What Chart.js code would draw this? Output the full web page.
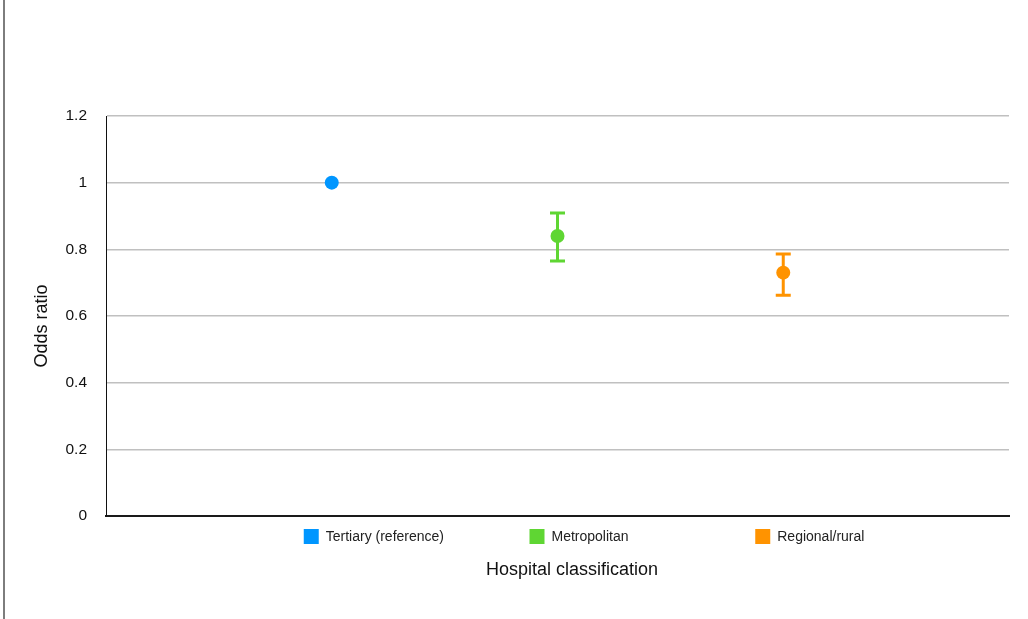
<!DOCTYPE html>
<html>
<head>
<meta charset="utf-8">
<script src="https://cdn.jsdelivr.net/npm/chart.js@4/dist/chart.umd.min.js"></script>
<style>
    html, body { margin: 0; padding: 0; background: #fff; overflow: hidden; }
    #wrap { position: relative; width: 1028px; height: 619px; }
    #frame-edge { position: absolute; left: 3px; top: 0; width: 2px; height: 619px; background: #7d7d7d; }
</style>
</head>
<body>
<div id="wrap">
    <canvas id="odds-chart"></canvas>
    <div id="frame-edge"></div>
</div>
<script>
// ----- Data -----
const categories = ['Tertiary (reference)', 'Metropolitan', 'Regional/rural'];
const oddsRatios = [1.0, 0.84, 0.73];
const ciLower = [null, 0.765, 0.662];
const ciUpper = [null, 0.909, 0.786];
const yTicks = [0, 0.2, 0.4, 0.6, 0.8, 1, 1.2];
const colors = ['#0096ff', '#5fd633', '#ff9300'];

const FONT = '"Liberation Sans", Arial, Helvetica, sans-serif';

// ----- Error bars (95% CI) -----
const errorBars = {
    id: 'errorBars',
    beforeDatasetsDraw(chart) {
        const { ctx, scales: { x, y } } = chart;
        ctx.save();
        ctx.lineWidth = 3;
        categories.forEach((cat, i) => {
            if (ciLower[i] == null || ciUpper[i] == null) return;
            const px = x.getPixelForValue(i + 1);
            const top = y.getPixelForValue(ciUpper[i]);
            const bottom = y.getPixelForValue(ciLower[i]);
            ctx.strokeStyle = colors[i];
            ctx.beginPath();
            ctx.moveTo(px, top);
            ctx.lineTo(px, bottom);
            ctx.moveTo(px - 7.5, top);
            ctx.lineTo(px + 7.5, top);
            ctx.moveTo(px - 7.5, bottom);
            ctx.lineTo(px + 7.5, bottom);
            ctx.stroke();
        });
        ctx.restore();
    }
};

// ----- Legend under each category + axis titles -----
const labelsPlugin = {
    id: 'labelsPlugin',
    afterDraw(chart) {
        const { ctx, scales: { x } } = chart;
        ctx.save();
        ctx.font = '14px ' + FONT;
        ctx.textBaseline = 'middle';
        ctx.textAlign = 'left';
        categories.forEach((cat, i) => {
            const left = x.getPixelForValue(i + 1) - 28;
            ctx.fillStyle = colors[i];
            ctx.fillRect(left, 529, 15, 15);
            ctx.fillStyle = '#222';
            ctx.fillText(cat, left + 22, 537);
        });

        ctx.font = '18px ' + FONT;
        ctx.textAlign = 'center';
        ctx.fillStyle = '#111';
        ctx.fillText('Hospital classification', 572, 570);

        ctx.translate(42, 326);
        ctx.rotate(-Math.PI / 2);
        ctx.font = '18px ' + FONT;
        ctx.fillText('Odds ratio', 0, 0);
        ctx.restore();
    }
};

const datasets = categories.map((cat, i) => ({
    label: cat,
    data: [{ x: i + 1, y: oddsRatios[i] }],
    backgroundColor: colors[i],
    borderColor: colors[i],
    pointRadius: 7,
    pointHoverRadius: 7,
    borderWidth: 0,
    showLine: false,
}));

new Chart(document.getElementById('odds-chart'), {
    type: 'scatter',
    data: { datasets },
    options: {
        responsive: true,
        maintainAspectRatio: false,
        animation: false,
        layout: { padding: { left: 0, top: 116, right: 19, bottom: 0 } },
        plugins: {
            legend: { display: false },
            tooltip: { enabled: false },
        },
        scales: {
            x: {
                type: 'linear',
                min: 0,
                max: categories.length + 1,
                grid: { display: false },
                ticks: { display: false },
                border: { display: true, color: '#1a1a1a', width: 2 },
                afterFit: (scale) => { scale.height = 103; },
            },
            y: {
                min: 0,
                max: 1.2,
                afterBuildTicks: (scale) => { scale.ticks = yTicks.map(v => ({ value: v })); },
                ticks: {
                    padding: 19,
                    color: '#111',
                    font: { family: FONT, size: 15.5 },
                    callback: (v) => String(Math.round(v * 10) / 10),
                },
                grid: { color: '#c0c0c0', lineWidth: 1.5, drawTicks: false },
                border: { display: true, color: '#111', width: 1 },
                afterFit: (scale) => { scale.width = 106; },
            },
        },
    },
    plugins: [errorBars, labelsPlugin],
});
</script>
</body>
</html>
